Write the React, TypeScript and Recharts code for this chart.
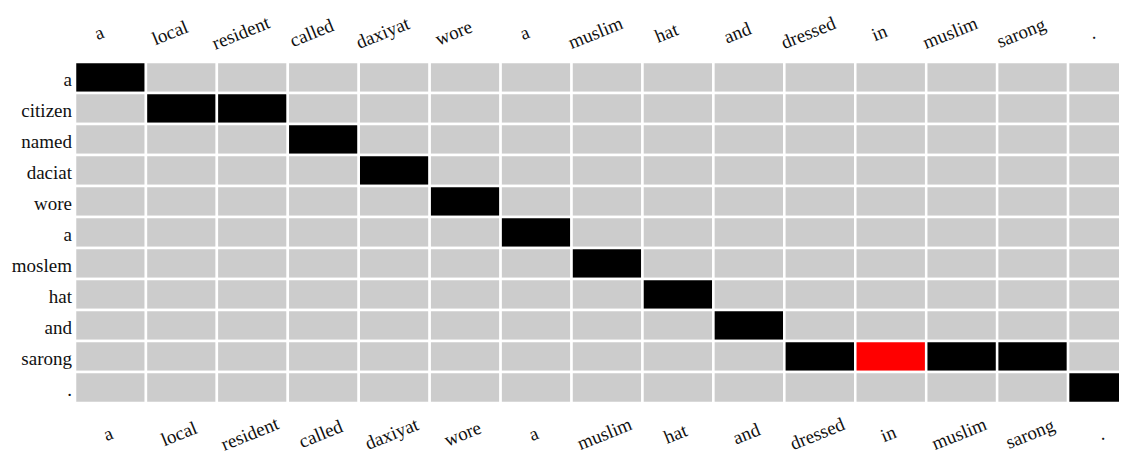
import React from "react";
import { BarChart, Bar, Cell, XAxis, YAxis } from "recharts";

// source words (rows) and target words (columns)
const rowLabels = ["a", "citizen", "named", "daciat", "wore", "a", "moslem", "hat", "and", "sarong", "."];
const colLabels = [
  "a", "local", "resident", "called", "daxiyat", "wore", "a", "muslim",
  "hat", "and", "dressed", "in", "muslim", "sarong", ".",
];

// aligned column indices for each row
const aligned = [[0], [1, 2], [3], [4], [5], [6], [7], [8], [9], [10, 11, 12, 13], [14]];
// highlighted cells as [row, col]
const highlighted = [[9, 11]];

const colTicks = colLabels.map((_, i) => i + 0.5);

const GREY = "#cccccc";
const BLACK = "#000000";
const RED = "#ff0000";
const FONT = "'Liberation Serif', 'DejaVu Serif', serif";

const data = rowLabels.map((_, r) => {
  const row: Record<string, number> = { id: r };
  colLabels.forEach((__, c) => {
    row["c" + c] = 1;
  });
  return row;
});

function cellColor(r: number, c: number) {
  if (highlighted.some(([hr, hc]) => hr === r && hc === c)) return RED;
  if (aligned[r].includes(c)) return BLACK;
  return GREY;
}

const RowTick = ({ x, y, payload }: any) => (
  <text x={x} y={y} dy={8} textAnchor="end" fontFamily={FONT} fontSize={19} fill="#111">
    {rowLabels[payload.value]}
  </text>
);

const Word = ({ x, y, label }: { x: number; y: number; label: string }) => (
  <g transform={`translate(${x},${y}) rotate(-22)`}>
    <text x={0} y={0} dy={5} textAnchor="middle" fontFamily={FONT} fontSize={19} fill="#111">
      {label}
    </text>
  </g>
);

// column words are drawn above and below the grid from the same tick
const ColTick = ({ x, y, payload }: any) => {
  const label = colLabels[Math.floor(payload.value)];
  return (
    <g>
      <Word x={x - 11} y={y - 28} label={label} />
      <Word x={x - 2} y={y + 373} label={label} />
    </g>
  );
};

export default function App() {
  return (
    <div style={{ width: 1119, height: 448, overflow: "hidden" }}>
      <BarChart
        width={1131}
        height={448}
        data={data}
        layout="vertical"
        barCategoryGap={0}
        margin={{ top: 0, right: 0, bottom: 53, left: 0 }}
      >
        <XAxis
          orientation="top"
          type="number"
          domain={[0, 15]}
          ticks={colTicks}
          height={54}
          axisLine={false}
          tickLine={false}
          tickSize={0}
          tickMargin={0}
          interval={0}
          tick={<ColTick />}
        />
        <YAxis
          type="category"
          dataKey="id"
          width={67}
          axisLine={false}
          tickLine={false}
          tickSize={0}
          tickMargin={3}
          interval={0}
          tick={<RowTick />}
        />
        {colLabels.map((_, c) => (
          <Bar
            key={c}
            dataKey={"c" + c}
            stackId="grid"
            isAnimationActive={false}
            stroke="#ffffff"
            strokeWidth={2.5}
          >
            {data.map((__, r) => (
              <Cell key={r} fill={cellColor(r, c)} />
            ))}
          </Bar>
        ))}
      </BarChart>
    </div>
  );
}
